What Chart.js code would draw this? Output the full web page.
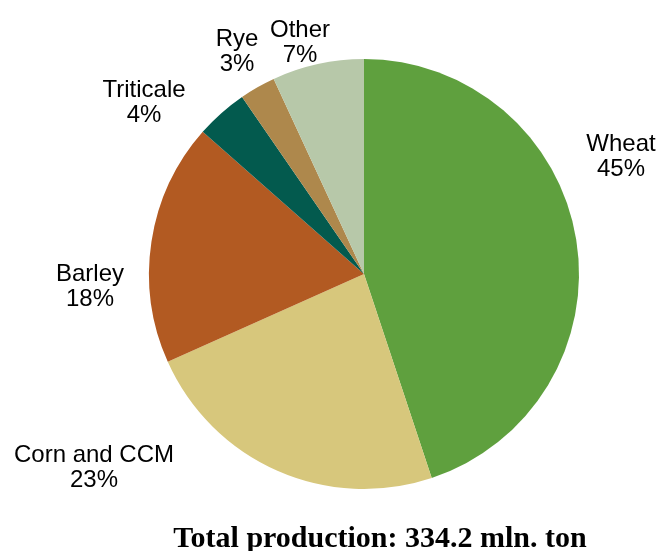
<!DOCTYPE html>
<html><head><meta charset="utf-8">
<script src="https://cdn.jsdelivr.net/npm/chart.js@4/dist/chart.umd.min.js"></script>
<style>html,body{margin:0;padding:0;background:#fff;}#wrap{width:658px;height:551px;position:relative;}</style>
</head><body><div id="wrap"><canvas id="c" width="658" height="551"></canvas></div>
<script>
const categories = ["Wheat", "Corn and CCM", "Barley", "Triticale", "Rye", "Other"];
const shares = [44.9, 23.4, 18.2, 3.9, 2.7, 6.9];
const shareLabels = ["45%", "23%", "18%", "4%", "3%", "7%"];
const colors = ["#5fa03e", "#d7c77c", "#b25a22", "#035a4e", "#ae884c", "#b7c8a9"];
const titleText = "Total production: 334.2 mln. ton";
// label anchor (centre x, first-line baseline y) for each category
const labelPos = [[621,151],[94,462],[90,281],[144,97],[237,46],[300,37]];

const labelPlugin = {
  id: 'labels',
  afterDraw(chart) {
    const ctx = chart.ctx;
    ctx.save();
    ctx.fillStyle = '#000';
    ctx.textAlign = 'center';
    ctx.textBaseline = 'alphabetic';
    ctx.font = '24px "Liberation Sans", Arial, sans-serif';
    categories.forEach((c, i) => {
      const [x, y] = labelPos[i];
      ctx.fillText(c, x, y);
      ctx.fillText(shareLabels[i], x, y + 25);
    });
    ctx.font = 'bold 30px "Liberation Serif", "Times New Roman", serif';
    ctx.fillText(titleText, 380, 547);
    ctx.restore();
  }
};

new Chart(document.getElementById('c'), {
  type: 'pie',
  data: {
    labels: categories,
    datasets: [{ data: shares, backgroundColor: colors, borderWidth: 0 }]
  },
  options: {
    responsive: false,
    animation: false,
    layout: { padding: { top: 59, bottom: 62, left: 149, right: 79 } },
    plugins: { legend: { display: false }, tooltip: { enabled: false }, title: { display: false } }
  },
  plugins: [labelPlugin]
});
</script></body></html>
